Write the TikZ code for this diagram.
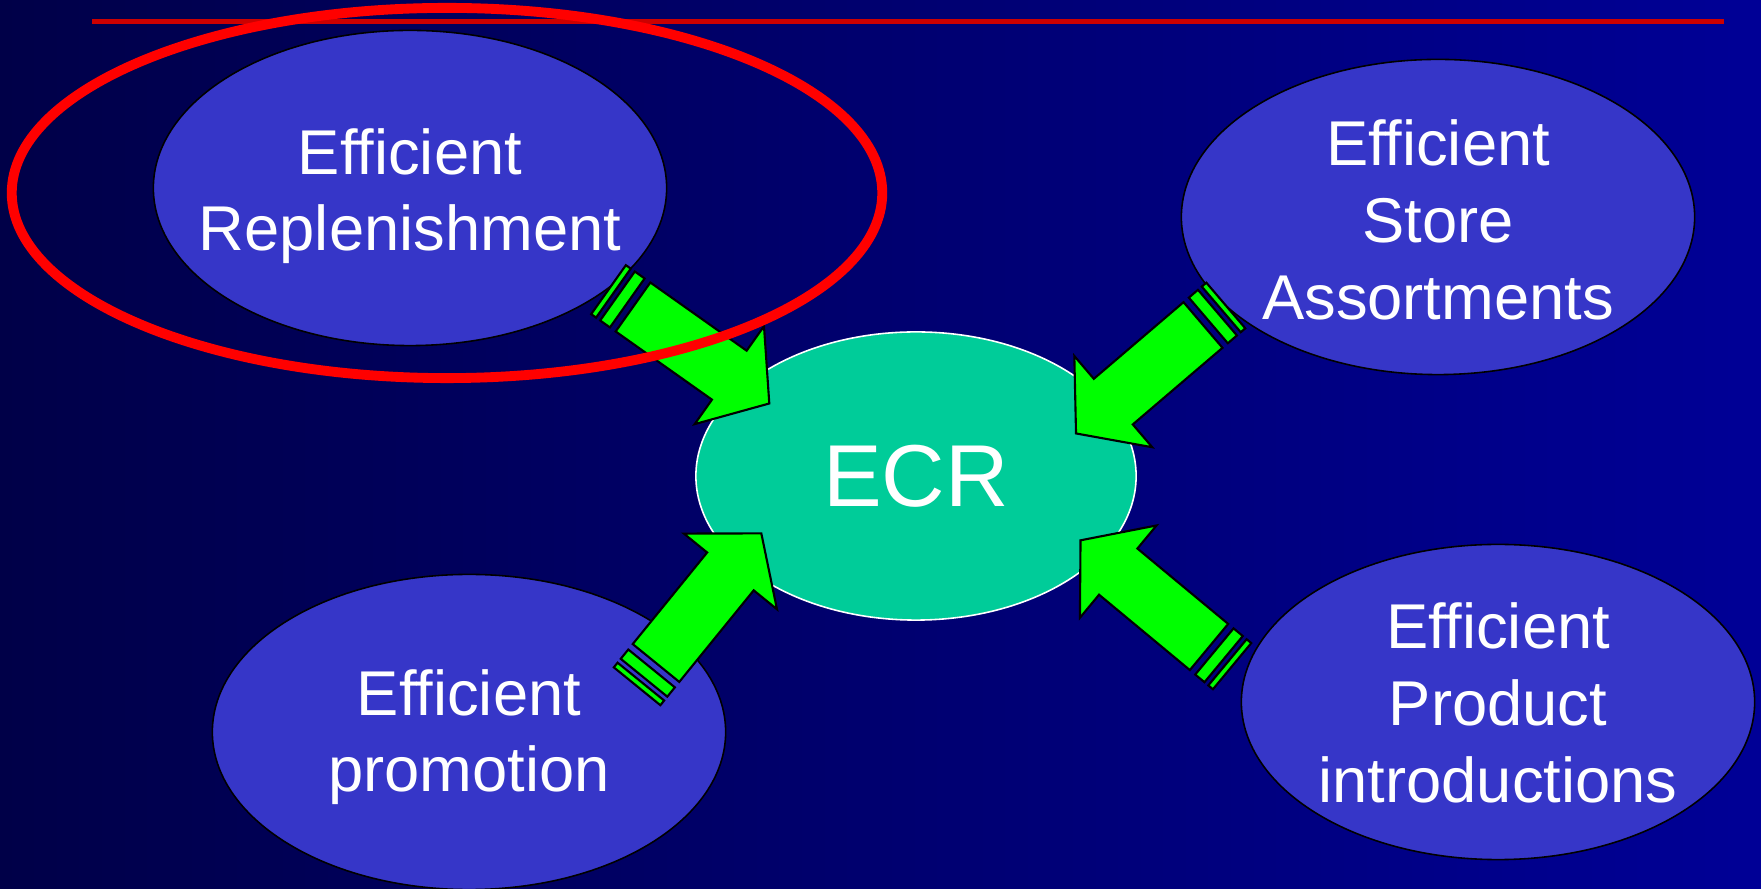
\documentclass[tikz,border=0pt]{standalone}
\usepackage{fontspec}
\setmainfont{Liberation Sans}
\usetikzlibrary{shapes.geometric}
\definecolor{bgleft}{RGB}{0,0,72}
\definecolor{bgright}{RGB}{0,0,150}
\definecolor{ovalblue}{RGB}{54,54,200}
\definecolor{ecrgreen}{RGB}{0,204,153}
\definecolor{linered}{RGB}{204,0,0}
\tikzset{
  oval/.style={ellipse,draw=black,line width=0.45pt,fill=ovalblue,inner sep=0pt,
    minimum width=5.13cm,minimum height=3.15cm},
  ovaltext/.style={text=white,align=center,inner sep=0pt,font=\fontsize{18}{21.8}\selectfont},
  blockarrow/.style={draw=black,line width=0.6pt,fill=green,line join=miter}
}
\newcommand{\ecrarrow}[2]{%
\begin{scope}[shift={(#1)},rotate=#2]
\filldraw[blockarrow] (0,-30)--(118,-30)--(118,-60)--(167,0)--(118,60)--(118,30)--(0,30)--cycle;
\filldraw[blockarrow] (-19,-30) rectangle (-7,30);
\filldraw[blockarrow] (-30,-30) rectangle (-24,30);
\end{scope}}

\begin{document}
\begin{tikzpicture}[x=0.01cm,y=-0.01cm]
%background
\useasboundingbox (0,0) rectangle (1761,889);
\clip (0,0) rectangle (1761,889);
\shade[left color=bgleft,right color=bgright] (0,0) rectangle (1761,889);
\draw[linered,line width=1.4pt] (92,21.5)--(1724,21.5);
%ovals
\node[oval] (repl) at (410,188) {};
\node[oval] (store) at (1438,217) {};
\node[oval] (promo) at (469,732) {};
\node[oval] (prod) at (1498,702) {};
\node[ovaltext] (repltext) at (410,196) {Efficient\\Replenishment};
\node[ovaltext] (storetext) at (1438,220) {Efficient\\Store\\Assortments};
\node[ovaltext] (promotext) at (469,737) {Efficient\\promotion};
\node[ovaltext] (prodtext) at (1498,703) {Efficient\\Product\\introductions};
\node[ellipse,draw=white,line width=0.45pt,fill=ecrgreen,text=white,inner sep=0pt,
  minimum width=4.4cm,minimum height=2.88cm,font=\fontsize{25}{30}\selectfont] (ecr) at (916,476) {ECR};
%arrows
\coordinate (t1) at (633,307);
\coordinate (t2) at (1203,325);
\coordinate (t3) at (656,663);
\coordinate (t4) at (1209,647);
\ecrarrow{t1}{-35.3}
\ecrarrow{t2}{220.5}
\ecrarrow{t3}{50.9}
\ecrarrow{t4}{140.3}
%highlight
\draw[red,line width=2.8pt] (447,193) ellipse (4.35cm and 1.85cm);
\end{tikzpicture}
\end{document}
